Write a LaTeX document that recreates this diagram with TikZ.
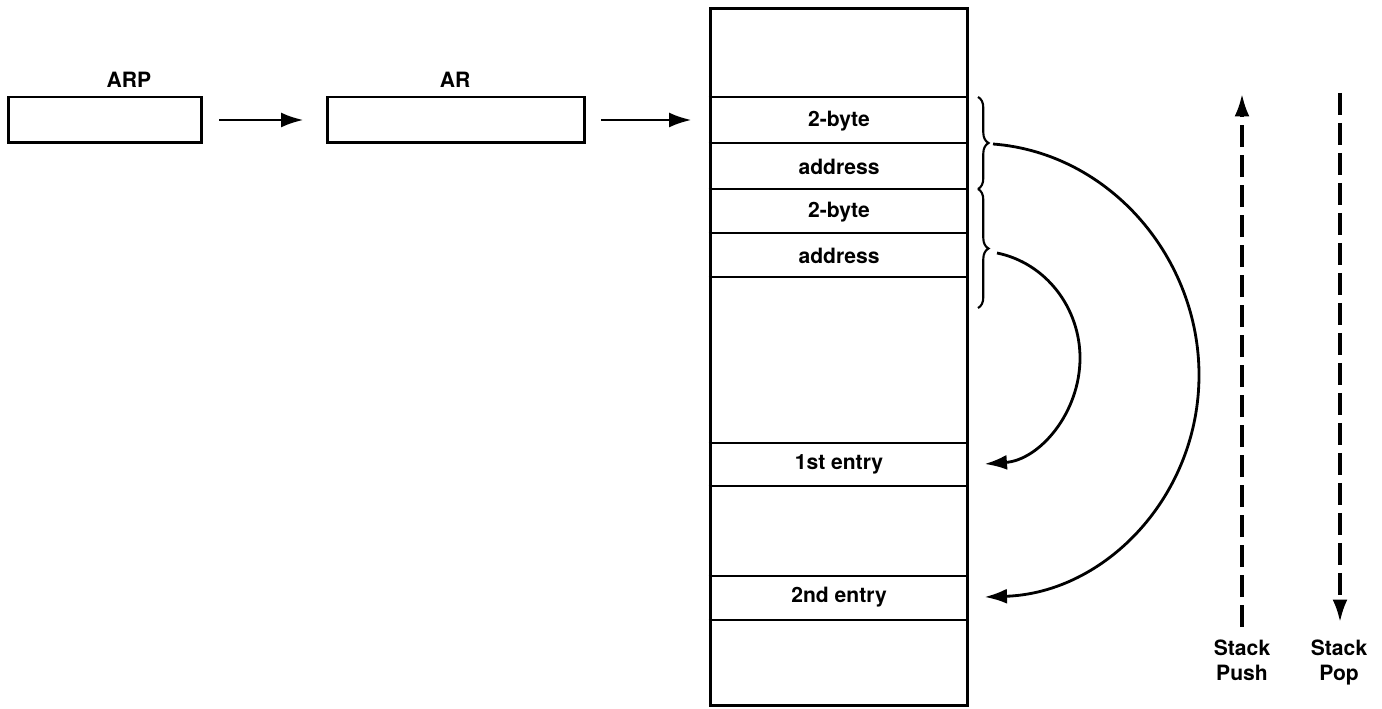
\documentclass[tikz,border=0pt]{standalone}
\usepackage{fontspec}
\setmainfont{TeX Gyre Heros}
\usetikzlibrary{arrows.meta,decorations.pathreplacing}

\tikzset{
  reg/.style={draw,minimum height=0.92cm,inner sep=0pt},
  lbl/.style={font=\bfseries\fontsize{12}{14.2}\selectfont,inner sep=1pt},
  link/.style={line width=1.6pt,-{Latex[length=0.45cm,width=0.3cm]}},
  flow/.style={line width=1.8pt,dash pattern=on 0.44cm off 0.16cm,-{Latex[length=0.45cm,width=0.3cm]}},
}

\begin{document}
\begin{tikzpicture}[x=0.02cm,y=-0.02cm,line width=1.7pt]
\useasboundingbox (0,0) rectangle (1382,709);
% registers
\node[reg,minimum width=3.88cm] (arp) at (105,120) {};
\node[lbl] (arplbl) at (129,80) {ARP};
\node[reg,minimum width=5.16cm] (ar) at (456,120) {};
\node[lbl] (arlbl) at (455,80) {AR};
% the stack
\node[draw,minimum width=5.16cm,minimum height=13.96cm,inner sep=0pt] (stack) at (839,357) {};
\foreach \y in {97,143,189,233,277,443,486,576,620}
  \draw (stack.west |- 0,\y) -- (stack.east |- 0,\y);
\node[lbl] (b1) at (839,121) {2-byte};
\node[lbl] (a1) at (839,167) {address};
\node[lbl] (b2) at (839,212) {2-byte};
\node[lbl] (a2) at (839,256) {address};
\node[lbl,minimum width=5.16cm] (e1) at (839,464) {1st entry};
\node[lbl,minimum width=5.16cm] (e2) at (839,597) {2nd entry};
% pointers
\draw[link,shorten <=0.32cm,shorten >=0.44cm] (arp.east) -- (ar.west);
\draw[link,shorten <=0.3cm,shorten >=0.34cm] (ar.east) -- (stack.west |- ar.east);
% braces
\draw[line width=1.2pt,decorate,decoration={brace,amplitude=6pt}] (978,97) -- (978,189);
\draw[line width=1.2pt,decorate,decoration={brace,amplitude=6pt}] (978,189) -- (978,308);
\coordinate (tipA) at (993,144);
\coordinate (midA) at (1199,375);
\coordinate (tipB) at (997,253);
\coordinate (midB) at (1080,358);
\draw[link] (tipA) .. controls +(117,9) and +(0,-117) .. (midA)
  .. controls +(0,121) and +(121,-4) .. ([xshift=0.3cm]e2.east);
\draw[link] (tipB) .. controls +(49,10) and +(0,-50) .. (midB)
  .. controls +(0,55) and +(55,-4) .. ([xshift=0.3cm]e1.east);
% push and pop
\node[lbl,align=center,anchor=north] (push) at (1242,637) {Stack\\Push};
\node[lbl,align=center,anchor=north] (pop) at (1339,637) {Stack\\Pop};
\coordinate (pushtop) at (1242,94);
\coordinate (poptop) at (1340,93);
\draw[flow,shorten <=0.2cm] (push.north) -- (pushtop);
\draw[flow,shorten >=0.3cm] (poptop) -- (poptop |- push.north);
\end{tikzpicture}
\end{document}
